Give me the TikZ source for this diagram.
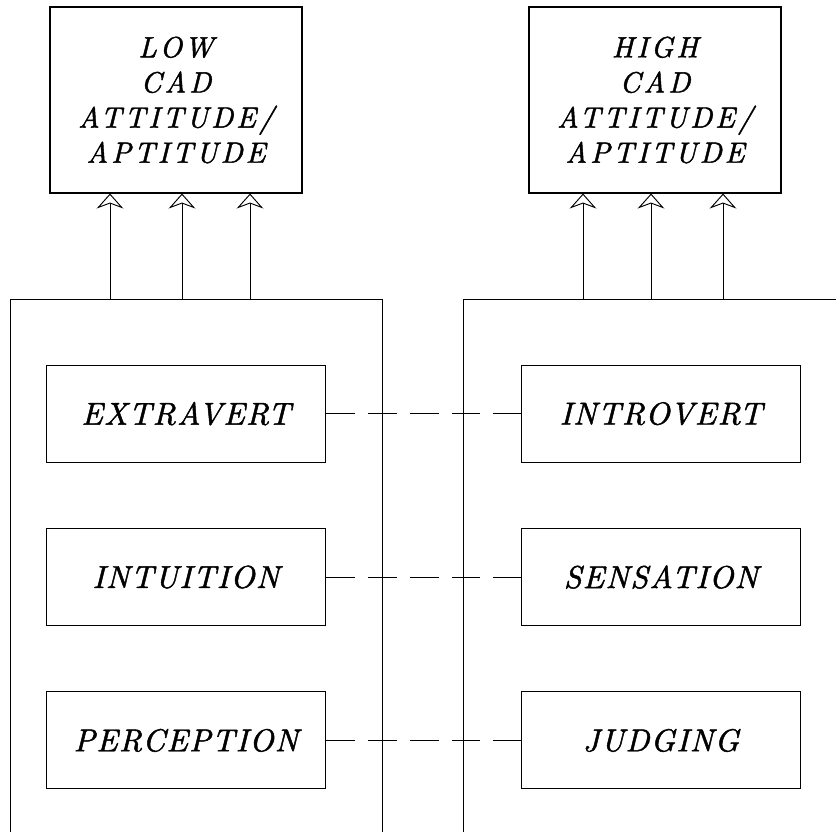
\documentclass[tikz,border=0pt]{standalone}
\usepackage{fontspec}
\usepackage{tikz}
\usetikzlibrary{positioning,arrows.meta}
\newfontfamily\outfont[Extension=.otf, UprightFont=lmroman10-italic, LetterSpace=10, FakeBold=1.5]{lmroman10-italic}
\newfontfamily\typefont[Extension=.otf, UprightFont=lmroman10-italic, LetterSpace=4, FakeBold=1.5]{lmroman10-italic}
\tikzset{
    grpbox/.style={draw, line width=0.9pt, anchor=north west, inner sep=0pt},
    outbox/.style={draw, line width=0.9pt, minimum width=7.56cm, minimum height=5.58cm,
        align=center, font=\outfont\fontsize{25}{30}\selectfont},
    typebox/.style={draw, line width=0.9pt, minimum width=8.37cm, minimum height=2.91cm,
        font=\typefont\fontsize{27}{30}\selectfont},
    pairline/.style={line width=0.8pt, dash pattern=on 0.865cm off 0.39cm},
    upline/.style={line width=0.8pt, -{Stealth[open, length=0.45cm, width=0.8cm, inset=0.15cm]}},
}

\begin{document}
\begin{tikzpicture}
\path[use as bounding box] (0,0) rectangle (25.08,-24.93);
\clip (0,0) rectangle (25.08,-24.93);

\node[outbox] (low) at (5.28,-3.00) {LOW\\CAD\\ATTITUDE/\\APTITUDE};
\node[outbox] (high) at (19.65,-3.00) {HIGH\\CAD\\ATTITUDE/\\APTITUDE};

\node[grpbox, minimum width=11.16cm, minimum height=17cm] (lowgrp) at (0.30,-8.97) {};
\node[grpbox, minimum width=12cm, minimum height=17cm] (highgrp) at (13.89,-8.97) {};

\node[typebox] (extra) at (5.58,-12.41) {EXTRAVERT};
\node[typebox, below=1.96cm of extra] (intu) {INTUITION};
\node[typebox, below=1.96cm of intu] (perc) {PERCEPTION};

\node[typebox] (intro) at (19.83,-12.41) {INTROVERT};
\node[typebox, below=1.96cm of intro] (sens) {SENSATION};
\node[typebox, below=1.96cm of sens] (judg) {JUDGING};

\draw[pairline] (extra) -- (intro);
\draw[pairline] (intu) -- (sens);
\draw[pairline] (perc) -- (judg);

\foreach \x in {3.30,5.46,7.50}
    \draw[upline] (\x,0 |- lowgrp.north) -- (\x,0 |- low.south);
\foreach \x in {17.49,19.53,21.69}
    \draw[upline] (\x,0 |- highgrp.north) -- (\x,0 |- high.south);
\end{tikzpicture}
\end{document}
